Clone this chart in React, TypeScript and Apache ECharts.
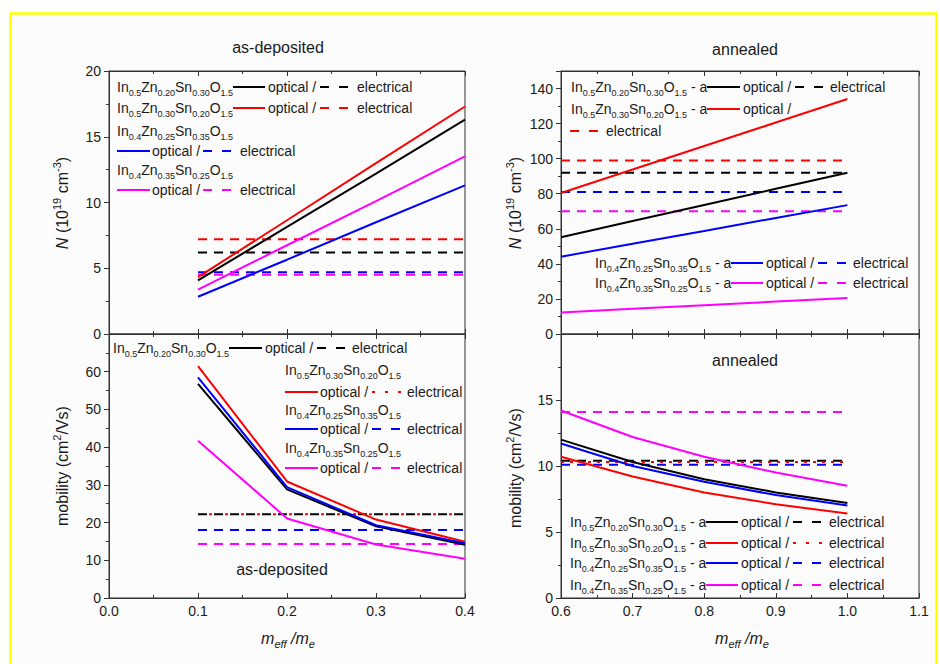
import React, { useEffect, useRef } from "react";
import * as echarts from "echarts";

// Effective-mass ratio sampled for each condition
const massAsDep = [0.1, 0.2, 0.3, 0.4];
const massAnn = [0.6, 0.7, 0.8, 0.9, 1.0];

// Sample compositions (In, Zn, Sn subscripts) and their colours
const compositions = [
  ["0.5", "0.20", "0.30"],
  ["0.5", "0.30", "0.20"],
  ["0.4", "0.25", "0.35"],
  ["0.4", "0.35", "0.25"],
];
const sampleColors = ["#000000", "#ff0000", "#0000ff", "#ff00ff"];

// Carrier density N (1e19 cm^-3), as-deposited
const nOpticalAsDep = [
  [4.07, 8.15, 12.2, 16.3],
  [4.33, 8.65, 13.0, 17.3],
  [2.83, 5.65, 8.5, 11.3],
  [3.37, 6.75, 10.1, 13.5],
];
const nElectricalAsDep = [6.2, 7.2, 4.7, 4.5];

// Carrier density N (1e19 cm^-3), annealed
const nOpticalAnn = [
  [55.2, 64.4, 73.6, 82.8, 92.0],
  [80.4, 93.8, 107.2, 120.6, 134.0],
  [44.1, 51.5, 58.8, 66.2, 73.5],
  [12.3, 14.4, 16.4, 18.5, 20.5],
];
const nElectricalAnn = [92, 99, 81, 70];

// Mobility (cm^2/Vs), as-deposited
const muOpticalAsDep = [
  [56.8, 28.8, 19.0, 14.1],
  [61.5, 30.9, 20.8, 14.9],
  [58.5, 29.4, 19.3, 14.5],
  [41.7, 21.1, 14.2, 10.4],
];
const muElectricalAsDep = [22.2, 22.2, 18.0, 14.3];

// Mobility (cm^2/Vs), annealed
const muOpticalAnn = [
  [12.0, 10.3, 9.0, 8.0, 7.2],
  [10.7, 9.2, 8.0, 7.1, 6.4],
  [11.7, 10.0, 8.8, 7.8, 7.0],
  [14.2, 12.2, 10.7, 9.5, 8.5],
];
const muElectricalAnn = [10.4, 10.3, 10.1, 14.1];

const FONT = '"Liberation Sans", Arial, sans-serif';
const TEXT = "#1a1a1a";
const AXIS = "#333333";

const DASH = [9, 7];
const DOT = [3, 6];

const legendRich = {
  n: { fontSize: 14, fontFamily: FONT, fill: TEXT, lineHeight: 20 },
  s: { fontSize: 9, fontFamily: FONT, fill: TEXT, lineHeight: 9, verticalAlign: "bottom" },
};

const nameRich = {
  n: { fontSize: 16, fontFamily: FONT, fill: TEXT, lineHeight: 22 },
  i: { fontSize: 16, fontFamily: FONT, fontStyle: "italic", fill: TEXT, lineHeight: 22 },
  sup: { fontSize: 11, fontFamily: FONT, fill: TEXT, lineHeight: 11, verticalAlign: "top" },
  sub: { fontSize: 11, fontFamily: FONT, fontStyle: "italic", fill: TEXT, lineHeight: 11, verticalAlign: "bottom" },
};

function formula(c: string[], suffix = "") {
  return (
    `{n|In}{s|${c[0]}}{n|Zn}{s|${c[1]}}{n|Sn}{s|${c[2]}}{n|O}{s|1.5}` +
    (suffix ? `{n|${suffix}}` : "")
  );
}

function richText(x: number, y: number, text: string, rich: any, extra: any = {}) {
  return {
    type: "text",
    x,
    y,
    z: 100,
    silent: true,
    ...extra,
    style: {
      text,
      rich,
      fontFamily: FONT,
      fontSize: 14,
      fill: TEXT,
      align: extra.align || "left",
      verticalAlign: "middle",
    },
  };
}

function plain(x: number, y: number, text: string, size = 14, align = "left") {
  return {
    type: "text",
    x,
    y,
    z: 100,
    silent: true,
    style: { text, fontFamily: FONT, fontSize: size, fill: TEXT, align, verticalAlign: "middle" },
  };
}

function seg(x1: number, x2: number, y: number, color: string, dash?: number[]) {
  return {
    type: "line",
    z: 100,
    silent: true,
    shape: { x1, y1: y, x2, y2: y },
    style: { stroke: color, lineWidth: 2, lineDash: dash || null },
  };
}

function xAxisCfg(grid: number, min: number, max: number, position: string, labels: boolean) {
  return {
    type: "value",
    gridIndex: grid,
    min,
    max,
    interval: 0.1,
    position,
    axisLine: { show: true, onZero: false, lineStyle: { color: AXIS, width: 1 } },
    axisTick: { show: true, inside: true, length: 5, lineStyle: { color: AXIS, width: 1 } },
    minorTick: { show: true, splitNumber: 2, length: 3, lineStyle: { color: AXIS, width: 1 } },
    axisLabel: {
      show: labels,
      color: TEXT,
      fontSize: 14,
      fontFamily: FONT,
      margin: 6,
      formatter: (v: number) => v.toFixed(1),
    },
    splitLine: { show: false },
    minorSplitLine: { show: false },
  };
}

function yAxisCfg(grid: number, max: number, interval: number, showMax: boolean) {
  return {
    type: "value",
    gridIndex: grid,
    min: 0,
    max,
    interval,
    position: "left",
    axisLine: { show: true, onZero: false, lineStyle: { color: AXIS, width: 1 } },
    axisTick: { show: true, inside: false, length: 5, lineStyle: { color: AXIS, width: 1 } },
    minorTick: { show: true, splitNumber: 2, length: 3, lineStyle: { color: AXIS, width: 1 } },
    axisLabel: { color: TEXT, fontSize: 14, fontFamily: FONT, margin: 8, showMaxLabel: showMax },
    splitLine: { show: false },
    minorSplitLine: { show: false },
  };
}

function optical(xIdx: number, yIdx: number, xs: number[], ys: number[], color: string) {
  return {
    type: "line",
    xAxisIndex: xIdx,
    yAxisIndex: yIdx,
    data: xs.map((x, i) => [x, ys[i]]),
    showSymbol: false,
    symbol: "none",
    silent: true,
    lineStyle: { color, width: 2 },
    z: 3,
  };
}

function electrical(
  xIdx: number,
  yIdx: number,
  xs: number[],
  v: number,
  color: string,
  dash: number[],
  offset = 0
) {
  return {
    type: "line",
    xAxisIndex: xIdx,
    yAxisIndex: yIdx,
    data: [
      [xs[0], v],
      [xs[xs.length - 1], v],
    ],
    showSymbol: false,
    symbol: "none",
    silent: true,
    lineStyle: { color, width: 2, type: dash, dashOffset: offset },
    z: 2,
  };
}

function buildOption() {
  const series: any[] = [];
  // panel 0: N as-deposited, panel 1: mobility as-deposited,
  // panel 2: N annealed, panel 3: mobility annealed
  for (let k = 0; k < 4; k++) {
    const c = sampleColors[k];
    series.push(electrical(0, 0, massAsDep, nElectricalAsDep[k], c, DASH));
    series.push(optical(0, 0, massAsDep, nOpticalAsDep[k], c));
    series.push(
      electrical(2, 1, massAsDep, muElectricalAsDep[k], c, k === 1 ? [3, 13] : k === 0 ? [9, 7] : DASH, k === 1 ? 5 : 0)
    );
    series.push(optical(2, 1, massAsDep, muOpticalAsDep[k], c));
    series.push(electrical(4, 2, massAnn, nElectricalAnn[k], c, DASH));
    series.push(optical(4, 2, massAnn, nOpticalAnn[k], c));
    series.push(electrical(6, 3, massAnn, muElectricalAnn[k], c, k === 1 ? DOT : DASH));
    series.push(optical(6, 3, massAnn, muOpticalAnn[k], c));
  }

  const nName = "{i|N}{n| (10}{sup|19}{n| cm}{sup|-3}{n|)}";
  const muName = "{n|mobility (cm}{sup|2}{n|/Vs)}";
  const mName = "{i|m}{sub|eff}{i| /m}{sub|e}";

  const g: any[] = [
    {
      type: "rect",
      z: -100,
      silent: true,
      shape: { x: 10.5, y: 13.5, width: 926, height: 700 },
      style: { fill: "#fcfcfc", stroke: "#ffff00", lineWidth: 2.5 },
    },
    // panel titles
    plain(278, 47, "as-deposited", 16, "center"),
    plain(745, 49, "annealed", 16, "center"),
    plain(282, 569, "as-deposited", 16, "center"),
    plain(745, 360, "annealed", 16, "center"),
    // axis names
    richText(62, 203, nName, nameRich, { rotation: Math.PI / 2, align: "center" }),
    richText(62, 466, muName, nameRich, { rotation: Math.PI / 2, align: "center" }),
    richText(515, 203, nName, nameRich, { rotation: Math.PI / 2, align: "center" }),
    richText(515, 468, muName, nameRich, { rotation: Math.PI / 2, align: "center" }),
    richText(288, 638, mName, nameRich, { align: "center" }),
    richText(742, 638, mName, nameRich, { align: "center" }),
  ];

  // N, as-deposited
  g.push(richText(117, 87, formula(compositions[0]), legendRich));
  g.push(seg(233, 265, 87, sampleColors[0]), plain(268, 87, "optical /"), seg(320, 348, 87, sampleColors[0], [9, 10]), plain(357, 87, "electrical"));
  g.push(richText(117, 108, formula(compositions[1]), legendRich));
  g.push(seg(233, 265, 108, sampleColors[1]), plain(268, 108, "optical /"), seg(320, 348, 108, sampleColors[1], [9, 10]), plain(357, 108, "electrical"));
  g.push(richText(117, 131, formula(compositions[2]), legendRich));
  g.push(seg(117, 150, 151, sampleColors[2]), plain(152, 151, "optical /"), seg(203, 232, 151, sampleColors[2], [9, 10]), plain(240, 151, "electrical"));
  g.push(richText(117, 170, formula(compositions[3]), legendRich));
  g.push(seg(117, 150, 190, sampleColors[3]), plain(152, 190, "optical /"), seg(203, 232, 190, sampleColors[3], [9, 10]), plain(240, 190, "electrical"));

  // N, annealed
  g.push(richText(571, 87, formula(compositions[0], " - a"), legendRich));
  g.push(seg(707, 740, 87, sampleColors[0]), plain(743, 87, "optical /"), seg(795, 825, 87, sampleColors[0], [9, 10]), plain(830, 87, "electrical"));
  g.push(richText(571, 109, formula(compositions[1], " - a"), legendRich));
  g.push(seg(707, 740, 109, sampleColors[1]), plain(743, 109, "optical /"));
  g.push(seg(570, 600, 131, sampleColors[1], [9, 10]), plain(606, 131, "electrical"));
  g.push(richText(595, 263, formula(compositions[2], " - a"), legendRich));
  g.push(seg(731, 763, 263, sampleColors[2]), plain(766, 263, "optical /"), seg(818, 848, 263, sampleColors[2], [9, 10]), plain(853, 263, "electrical"));
  g.push(richText(595, 283, formula(compositions[3], " - a"), legendRich));
  g.push(seg(731, 763, 283, sampleColors[3]), plain(766, 283, "optical /"), seg(818, 848, 283, sampleColors[3], [9, 10]), plain(853, 283, "electrical"));

  // mobility, as-deposited
  g.push(richText(113, 348, formula(compositions[0]), legendRich));
  g.push(seg(229, 262, 348, sampleColors[0]), plain(265, 348, "optical /"), seg(317, 347, 348, sampleColors[0], [9, 10]), plain(352, 348, "electrical"));
  g.push(richText(285, 370, formula(compositions[1]), legendRich));
  g.push(seg(285, 318, 392, sampleColors[1]), plain(320, 392, "optical /"), seg(372, 402, 392, sampleColors[1], [3, 10]), plain(407, 392, "electrical"));
  g.push(richText(285, 410, formula(compositions[2]), legendRich));
  g.push(seg(285, 318, 429, sampleColors[2]), plain(320, 429, "optical /"), seg(372, 402, 429, sampleColors[2], [9, 10]), plain(407, 429, "electrical"));
  g.push(richText(285, 448, formula(compositions[3]), legendRich));
  g.push(seg(285, 318, 468, sampleColors[3]), plain(320, 468, "optical /"), seg(372, 402, 468, sampleColors[3], [9, 10]), plain(407, 468, "electrical"));

  // mobility, annealed
  const brRows = [522, 543, 563, 585];
  brRows.forEach((y, k) => {
    g.push(richText(570, y, formula(compositions[k], " - a"), legendRich));
    g.push(
      seg(706, 738, y, sampleColors[k]),
      plain(741, y, "optical /"),
      seg(793, 822, y, sampleColors[k], k === 1 ? [3, 10] : [9, 10]),
      plain(829, y, "electrical")
    );
  });

  const gridBox = { show: true, borderColor: AXIS, borderWidth: 1, backgroundColor: "transparent" };

  return {
    animation: false,
    backgroundColor: "#ffffff",
    grid: [
      { left: 109, top: 71, width: 356, height: 263, ...gridBox },
      { left: 109, top: 334, width: 356, height: 264, ...gridBox },
      { left: 561, top: 71, width: 358, height: 263, ...gridBox },
      { left: 561, top: 334, width: 358, height: 264, ...gridBox },
    ],
    xAxis: [
      xAxisCfg(0, 0, 0.4, "bottom", false),
      xAxisCfg(0, 0, 0.4, "top", false),
      xAxisCfg(1, 0, 0.4, "bottom", true),
      xAxisCfg(1, 0, 0.4, "top", false),
      xAxisCfg(2, 0.6, 1.1, "bottom", false),
      xAxisCfg(2, 0.6, 1.1, "top", false),
      xAxisCfg(3, 0.6, 1.1, "bottom", true),
      xAxisCfg(3, 0.6, 1.1, "top", false),
    ],
    yAxis: [
      yAxisCfg(0, 20, 5, true),
      yAxisCfg(1, 70, 10, false),
      yAxisCfg(2, 150, 20, false),
      yAxisCfg(3, 20, 5, false),
    ],
    series,
    graphic: { elements: g },
  };
}

export default function App() {
  const ref = useRef<HTMLDivElement>(null);
  useEffect(() => {
    if (!ref.current) return;
    const chart = echarts.init(ref.current, null, { renderer: "svg" });
    chart.setOption(buildOption() as any);
    return () => chart.dispose();
  }, []);
  return (
    <div
      ref={ref}
      style={{ position: "absolute", left: 0, top: 0, width: 940, height: 664, background: "#ffffff" }}
    />
  );
}
